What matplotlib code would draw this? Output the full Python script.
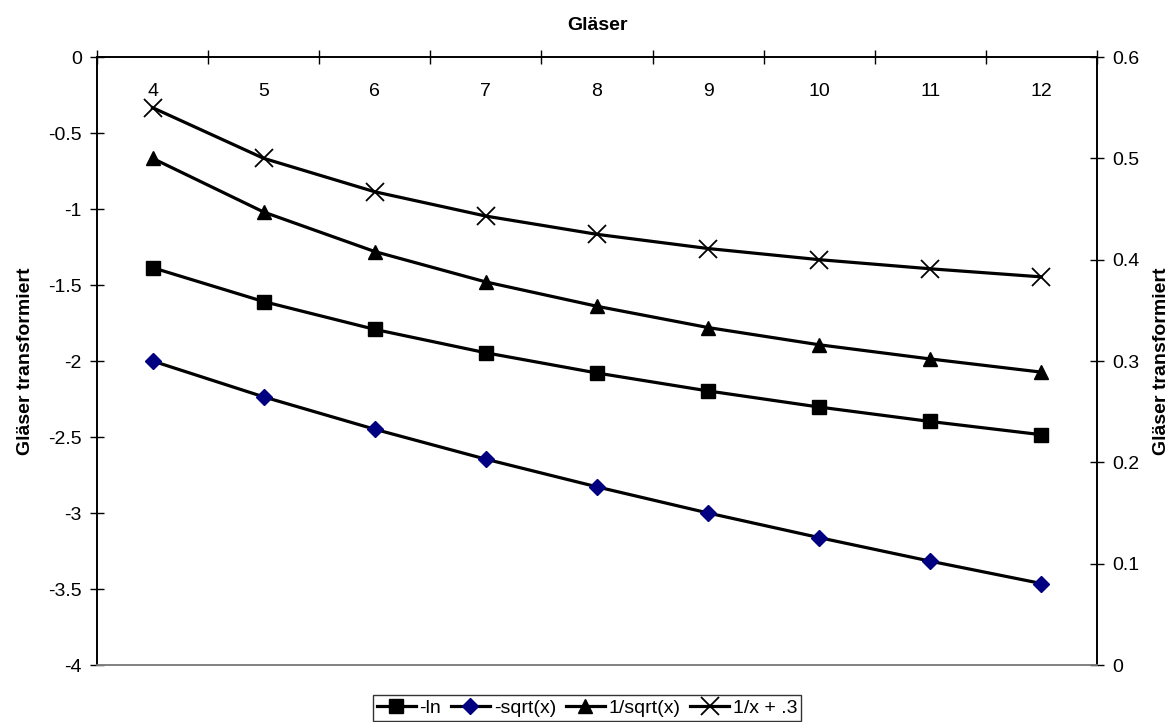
import matplotlib
matplotlib.use("Agg")
import matplotlib.pyplot as plt

plt.rcParams['font.family'] = ['Liberation Sans', 'DejaVu Sans']

glaeser = [4, 5, 6, 7, 8, 9, 10, 11, 12]
neg_ln = [-1.386, -1.609, -1.792, -1.946, -2.079, -2.197, -2.303, -2.398, -2.485]
neg_sqrt = [-2.0, -2.236, -2.449, -2.646, -2.828, -3.0, -3.162, -3.317, -3.464]
inv_sqrt = [0.5, 0.447, 0.408, 0.378, 0.354, 0.333, 0.316, 0.302, 0.289]
inv_x = [0.55, 0.5, 0.467, 0.443, 0.425, 0.411, 0.4, 0.391, 0.383]

left_ticks = [0, -0.5, -1, -1.5, -2, -2.5, -3, -3.5, -4]
right_ticks = [0, 0.1, 0.2, 0.3, 0.4, 0.5, 0.6]

fig = plt.figure(figsize=(11.72, 7.22), dpi=100)
ax = fig.add_axes([97 / 1172, 57 / 722, 1000 / 1172, 608 / 722])
ax2 = ax.twinx()

lw = 2.3
l1, = ax.plot(glaeser, neg_ln, color='black', lw=lw, marker='s', ms=10.5, label='-ln')
l2, = ax.plot(glaeser, neg_sqrt, color='black', lw=lw, marker='D', ms=8.5,
              mfc='#000080', mec='#000080', label='-sqrt(x)')
l3, = ax2.plot(glaeser, inv_sqrt, color='black', lw=lw, marker='^', ms=10.5, label='1/sqrt(x)')
l4, = ax2.plot(glaeser, inv_x, color='black', lw=lw, marker='x', ms=13, mew=1.3,
               label='1/x + .3')

ax.set_xlim(3.5, 12.5)
ax.set_ylim(-4, 0)
ax2.set_ylim(0, 0.6)

# category axis sits on top (y = 0), labels hang inside the plot
ax.xaxis.tick_top()
ax.set_xticks([g - 0.5 for g in glaeser] + [12.5])
ax.set_xticklabels([])
ax.set_xticks(glaeser, minor=True)
ax.set_xticklabels([str(g) for g in glaeser], minor=True)
ax.tick_params(axis='x', which='major', direction='inout', length=10, width=1, top=True, bottom=False)
ax.tick_params(axis='x', which='minor', length=0, pad=-31, labelsize=14, top=True, bottom=False)

ax.set_yticks(left_ticks)
ax.set_yticklabels(['0', '-0.5', '-1', '-1.5', '-2', '-2.5', '-3', '-3.5', '-4'])
ax.tick_params(axis='y', direction='inout', length=10, width=1, labelsize=14, pad=6)
ax2.set_yticks(right_ticks)
ax2.set_yticklabels(['0', '0.1', '0.2', '0.3', '0.4', '0.5', '0.6'])
ax2.tick_params(axis='y', direction='inout', length=10, width=1, labelsize=14, pad=6)

for a in (ax, ax2):
    a.spines['bottom'].set_color('#808080')
    a.spines['bottom'].set_linewidth(1.2)
    a.spines['top'].set_linewidth(1.2)
    a.spines['left'].set_linewidth(1.2)
    a.spines['right'].set_linewidth(1.2)

fig.text(0.5 * (97 + 1097) / 1172, 1 - 25 / 722, 'Gläser', ha='center', va='center',
         fontsize=14, fontweight='bold')
ax.set_ylabel('Gläser transformiert', fontsize=14, fontweight='bold', labelpad=10)
ax2.set_ylabel('Gläser transformiert', fontsize=14, fontweight='bold', labelpad=10)

leg = fig.legend(handles=[l1, l2, l3, l4], loc='center', bbox_to_anchor=(587 / 1172, 1 - 708 / 722),
                 ncol=4, fontsize=14, frameon=True, fancybox=False, edgecolor='black',
                 handlelength=2.0, handletextpad=0.2, columnspacing=0.5,
                 borderpad=0.2, borderaxespad=0)
leg.get_frame().set_linewidth(1.0)

fig.savefig('out.png', dpi=100)
